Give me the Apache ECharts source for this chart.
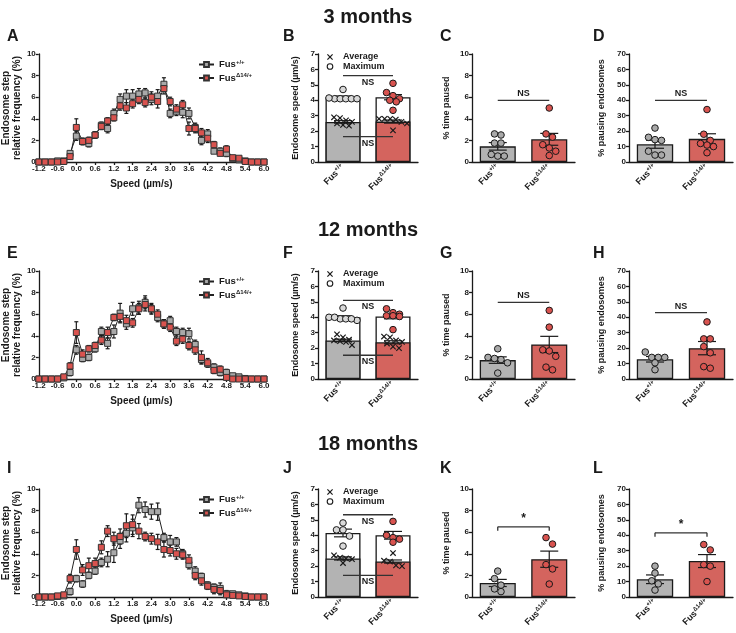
<!DOCTYPE html>
<html><head><meta charset="utf-8">
<script src="https://cdn.jsdelivr.net/npm/echarts@6/dist/echarts.min.js"></script>
<style>html,body{margin:0;padding:0;background:#fff}#c{width:736px;height:633px}</style>
</head><body><div id="c"></div><script>
// ---------------- DATA ----------------
const WT = 'Fus+/+', MUT = 'FusΔ14/+';
const groups = [WT, MUT];
const speeds = [-1.2,-1.0,-0.8,-0.6,-0.4,-0.2,0.0,0.2,0.4,0.6,0.8,1.0,1.2,1.4,1.6,1.8,2.0,2.2,2.4,2.6,2.8,3.0,3.2,3.4,3.6,3.8,4.0,4.2,4.4,4.6,4.8,5.0,5.2,5.4,5.6,5.8,6.0];

// 3 months – step frequency
const A_wt     = [0,0,0,0.1,0.1,0.8,2.4,1.9,1.7,2.5,3.4,3.1,4.5,5.8,6.1,6.1,6.3,6.4,5.8,6.1,7.2,4.5,4.7,4.6,4.5,3.2,2.0,2.6,1.0,1.0,0.8,0.3,0.2,0.1,0,0,0];
const A_wt_err = [0,0,0,0.1,0.1,0.2,0.4,0.3,0.3,0.3,0.3,0.4,0.4,0.5,0.6,0.6,0.5,0.4,0.5,0.6,0.6,0.4,0.4,0.5,0.5,0.4,0.4,0.4,0.2,0.3,0.3,0.2,0.1,0.1,0,0,0];
const A_mut    = [0,0,0,0,0.05,0.5,3.2,1.9,2.0,2.5,3.3,3.8,4.1,5.2,5.0,5.4,5.8,5.5,6.0,5.6,6.8,5.6,4.9,5.3,3.1,3.1,2.7,2.2,1.6,0.8,1.2,0.4,0.35,0.05,0,0,0];
const A_mut_err= [0,0,0,0,0.05,0.2,0.8,0.3,0.3,0.3,0.3,0.3,0.3,0.4,0.5,0.4,0.4,0.4,0.5,0.6,0.5,0.4,0.4,0.4,0.6,0.4,0.4,0.4,0.3,0.2,0.3,0.1,0.1,0.05,0,0,0];
// 12 months
const E_wt     = [0,0,0,0,0.1,0.6,2.7,1.9,2.0,2.8,4.4,3.3,4.4,6.1,5.1,6.5,6.6,7.1,6.5,5.7,5.1,5.4,4.4,4.3,4.2,3.2,1.8,1.4,1.1,0.6,0.6,0.3,0.2,0.05,0,0,0];
const E_wt_err = [0,0,0,0,0.05,0.3,0.4,0.3,0.3,0.3,0.4,0.5,0.6,0.9,0.5,0.6,0.6,0.6,0.4,0.4,0.4,0.4,0.4,0.4,0.5,0.4,0.4,0.3,0.3,0.3,0.3,0.1,0.1,0.05,0,0,0];
const E_mut    = [0,0,0,0,0.2,1.2,4.3,2.3,2.8,3.1,3.6,4.3,5.7,5.8,5.4,5.2,6.5,6.9,6.5,6.0,5.1,4.8,3.5,3.7,3.1,2.7,2.0,1.5,0.8,0.9,0.15,0,0,0,0,0,0];
const E_mut_err= [0,0,0,0,0.1,0.3,1.0,0.4,0.3,0.3,0.4,0.5,0.3,0.5,0.5,0.4,0.5,0.6,0.5,0.4,0.4,0.4,0.4,0.4,0.4,0.4,0.6,0.4,0.3,0.3,0.1,0,0,0,0,0,0];
// 18 months
const I_wt     = [0,0,0,0.05,0.1,0.5,1.7,1.2,2.0,2.4,3.2,3.5,4.1,5.2,5.9,6.4,8.5,8.1,7.9,7.9,5.5,5.1,5.1,4.0,3.0,2.4,1.9,1.1,0.9,0.8,0.3,0.3,0.2,0.1,0,0,0];
const I_wt_err = [0,0,0,0.05,0.1,0.3,0.3,0.3,0.3,0.3,0.4,0.7,0.9,0.7,0.8,0.8,0.7,0.7,0.7,0.8,0.4,0.6,0.4,0.4,0.4,0.4,0.3,0.3,0.3,0.5,0.3,0.2,0.1,0.1,0,0,0];
const I_mut    = [0,0,0,0.1,0.2,1.7,4.4,2.5,2.9,3.1,4.6,6.1,5.4,5.6,6.6,6.7,6.1,5.6,5.4,5.1,4.4,4.3,4.0,3.9,3.4,2.0,1.5,1.0,0.7,0.6,0.2,0.15,0.1,0.05,0,0,0];
const I_mut_err= [0,0,0,0.05,0.1,0.4,0.9,0.5,0.7,0.5,0.6,0.5,0.6,0.7,1.1,0.9,0.7,0.4,0.5,0.7,0.7,0.5,0.5,0.4,0.5,0.4,0.4,0.3,0.4,0.4,0.2,0.1,0.1,0.05,0,0,0];

// Endosome speed (µm/s): per-animal maximum / average, bar means and SEM
const B_wt_max = [4.7,4.1,4.1,4.1,4.1,4.1,4.15], B_wt_avg = [2.9,2.85,2.7,2.6,2.4,2.35,2.5];
const B_mut_max = [5.1,4.5,4.3,4.1,3.9,4.0,3.35], B_mut_avg = [2.8,2.8,2.75,2.8,2.6,2.5,2.05];
const B_bar_max = [4.2,4.2], B_bar_max_sem = [0.08,0.17], B_bar_avg = [2.6,2.62], B_bar_avg_sem = [0.08,0.1];
const F_wt_max = [4.6,4.0,3.9,3.9,3.8,3.9,4.0], F_wt_avg = [2.9,2.7,2.55,2.5,2.4,2.2,2.45];
const F_mut_max = [4.55,4.3,4.2,4.1,4.1,4.05,3.2], F_mut_avg = [2.75,2.7,2.5,2.4,2.3,2.0,2.1];
const F_bar_max = [4.0,4.05], F_bar_max_sem = [0.1,0.15], F_bar_avg = [2.5,2.38], F_bar_avg_sem = [0.08,0.1];
const J_wt_max = [4.8,4.35,4.35,3.95,3.3], J_wt_avg = [2.7,2.55,2.45,2.5,2.2];
const J_mut_max = [4.9,4.0,3.85,3.75,3.55], J_mut_avg = [2.85,2.35,2.3,2.05,2.0];
const J_bar_max = [4.15,4.0], J_bar_max_sem = [0.25,0.25], J_bar_avg = [2.5,2.3], J_bar_avg_sem = [0.1,0.1];

// % time paused
const C_wt = [2.5,2.6,1.75,1.75,0.7,0.55,0.55], C_mut = [5.0,2.6,2.3,1.6,1.3,1.0,0.6], C_bar = [1.45,2.1], C_sem = [0.35,0.55];
const G_wt = [2.8,2.0,1.9,1.8,1.5,0.55], G_mut = [6.35,4.8,2.7,2.6,2.1,1.1,0.85], G_bar = [1.75,3.2], G_sem = [0.3,0.75];
const K_wt = [2.4,1.7,1.1,0.75,0.5], K_mut = [5.5,4.9,3.0,2.6,1.2], K_bar = [1.3,3.5], K_sem = [0.33,0.75];
// % pausing endosomes
const D_wt = [22,16,14.5,14,7,4.5,4.5], D_mut = [34,18,14,12,10,11,6], D_bar = [11.5,15], D_sem = [2.6,3.3];
const H_wt = [17.5,14,14,14,10.5,6], H_mut = [37,26,26,21,17,8,7], H_bar = [12.8,20], H_sem = [1.8,4.3];
const L_wt = [20,15.5,10.5,8.5,4.5], L_mut = [34,30.5,21,20,10], L_bar = [11.5,23.3], L_sem = [2.8,4.2];

// significance annotations: [label, level]
const B_sig = [['NS',5.6],['NS',1.64]], F_sig = [['NS',5.1],['NS',1.54]], J_sig = [['NS',5.33],['NS',1.4]];
const C_sig = ['NS',5.7], G_sig = ['NS',7.1], K_sig = ['*',6.5];
const D_sig = ['NS',40], H_sig = ['NS',43], L_sig = ['*',41.6];

const rowTitles = ['3 months','12 months','18 months'];
const letters = [['A','B','C','D'],['E','F','G','H'],['I','J','K','L']];
const yTicks = {step:[0,10,2], speed:[0,7,1], pause:[0,10,2], pct:[0,70,10]};

// ---------------- STYLE / LAYOUT ----------------
const FONT = '"Liberation Sans", Arial, Helvetica, sans-serif';
const BLACK = '#1a1a1a';
const GREY = '#b3b3b3', RED = '#d4645e';
const GREY_PT = '#a9a9a9', RED_PT = '#d9534f';
const rowTop = [54, 271, 489], rowH = 108;
const cols = {line:[32,232], speed:[318,100], pause:[472,103], pct:[629,104]};

const grids=[], xAxes=[], yAxes=[], series=[], legends=[], titles=[], graphics=[];

const labelRich = {
  b:{fontSize:9, fontWeight:'bold', fontFamily:FONT, color:BLACK},
  s:{fontSize:6, fontWeight:'bold', fontFamily:FONT, color:BLACK, padding:[0,0,5,0]}
};
const legRich = {
  b:{fontSize:9.5, fontWeight:'bold', fontFamily:FONT, color:BLACK},
  s:{fontSize:6, fontWeight:'bold', fontFamily:FONT, color:BLACK, padding:[0,0,5,0]}
};
const fusFmt = n => n === WT ? '{b|Fus}{s|+/+}' : '{b|Fus}{s|Δ14/+}';

function yAxisDef(gi, key, name, gap) {
  const [mn, mx, iv] = yTicks[key];
  return {type:'value', gridIndex:gi, min:mn, max:mx, interval:iv,
    name, nameLocation:'middle', nameGap:gap,
    nameTextStyle:{color:BLACK, fontFamily:FONT, fontWeight:'bold', fontSize:9, lineHeight:11},
    axisLine:{show:true, onZero:false, lineStyle:{color:BLACK, width:1.3}},
    axisTick:{show:true, length:3, lineStyle:{color:BLACK, width:1.3}},
    axisLabel:{color:BLACK, fontFamily:FONT, fontWeight:'bold', fontSize:8, margin:3},
    splitLine:{show:false}};
}
function catAxisDef(gi) {
  return {type:'category', gridIndex:gi, data:groups,
    axisLine:{show:true, onZero:false, lineStyle:{color:BLACK, width:1.3}},
    axisTick:{show:false},
    axisLabel:{rotate:45, interval:0, margin:4, formatter:fusFmt, rich:labelRich}};
}
function errRender(half, color) {
  return (params, api) => {
    const x = api.value(0), y = api.value(1), e = api.value(2);
    if (!e) return null;
    const t = api.coord([x, y + e]), b = api.coord([x, y - e]);
    const st = {stroke:color, lineWidth:1.2};
    return {type:'group', children:[
      {type:'line', shape:{x1:t[0], y1:t[1], x2:b[0], y2:b[1]}, style:st},
      {type:'line', shape:{x1:t[0]-half, y1:t[1], x2:t[0]+half, y2:t[1]}, style:st},
      {type:'line', shape:{x1:b[0]-half, y1:b[1], x2:b[0]+half, y2:b[1]}, style:st}]};
  };
}
function ptRender(kind, fill) {
  return (params, api) => {
    const c = api.coord([api.value(0), api.value(1)]);
    const x = c[0] + api.value(2), y = c[1];
    if (kind === 'o') return {type:'circle', shape:{cx:x, cy:y, r:3.3}, style:{fill, stroke:BLACK, lineWidth:1}};
    const s = 2.7, st = {stroke:BLACK, lineWidth:1.2};
    return {type:'group', children:[
      {type:'line', shape:{x1:x-s, y1:y-s, x2:x+s, y2:y+s}, style:st},
      {type:'line', shape:{x1:x-s, y1:y+s, x2:x+s, y2:y-s}, style:st}]};
  };
}
function sigRender(text, pos, ticks) {
  return (params, api) => {
    const y = api.value(1);
    const a = api.coord([0, y]), b = api.coord([1, y]);
    const st = {stroke:'#333', lineWidth:1.3};
    const ch = [{type:'line', shape:{x1:a[0], y1:a[1], x2:b[0], y2:b[1]}, style:st}];
    if (ticks) {
      ch.push({type:'line', shape:{x1:a[0], y1:a[1], x2:a[0], y2:a[1]+4}, style:st});
      ch.push({type:'line', shape:{x1:b[0], y1:b[1], x2:b[0], y2:b[1]+4}, style:st});
    }
    ch.push({type:'text', x:(a[0]+b[0])/2, y: pos === 'above' ? a[1]-2 : a[1]+2,
      style:{text, fill:BLACK, font:`bold ${text === '*' ? 12 : 9}px ${FONT}`, textAlign:'center',
             textVerticalAlign: pos === 'above' ? 'bottom' : 'top'}});
    return {type:'group', children:ch};
  };
}
// deterministic dot-plot spreading: points with close values share a row
function swarm(vals, ppu, d, maxW) {
  const order = vals.map((v,i)=>i).sort((a,b)=>vals[b]-vals[a]);
  const rows = [];
  order.forEach(i => {
    const r = rows[rows.length-1];
    if (r && (vals[r[0]] - vals[i]) * ppu < d) r.push(i); else rows.push([i]);
  });
  const off = new Array(vals.length).fill(0);
  rows.forEach(r => {
    const n = r.length, s = n > 1 ? Math.min(d, maxW/(n-1)) : 0;
    r.forEach((i,j) => off[i] = (j - (n-1)/2) * s);
  });
  return off;
}
function pointSeries(gi, cat, vals, key, kind, fill) {
  const [mn, mx] = yTicks[key];
  const off = swarm(vals, rowH/(mx-mn), kind === 'o' ? 6.5 : 6, 28);
  series.push({type:'custom', xAxisIndex:gi, yAxisIndex:gi, clip:false, z:6,
    renderItem:ptRender(kind, fill), data: vals.map((v,i)=>[cat, v, off[i]])});
}
function sigSeries(gi, sig, pos, ticks) {
  series.push({type:'custom', xAxisIndex:gi, yAxisIndex:gi, clip:false, z:5,
    renderItem:sigRender(sig[0], pos, ticks), data:[[0, sig[1]]]});
}
function errSeries(gi, means, sems, half, z) {
  series.push({type:'custom', xAxisIndex:gi, yAxisIndex:gi, clip:false, z:z||4,
    renderItem:errRender(half, BLACK), data: means.map((m,i)=>[i, m, sems[i]])});
}

const linePanels = [
  {wt:A_wt, wtE:A_wt_err, mut:A_mut, mutE:A_mut_err},
  {wt:E_wt, wtE:E_wt_err, mut:E_mut, mutE:E_mut_err},
  {wt:I_wt, wtE:I_wt_err, mut:I_mut, mutE:I_mut_err}];
const speedPanels = [
  {wtMax:B_wt_max, wtAvg:B_wt_avg, mutMax:B_mut_max, mutAvg:B_mut_avg, bMax:B_bar_max, bMaxE:B_bar_max_sem, bAvg:B_bar_avg, bAvgE:B_bar_avg_sem, sig:B_sig},
  {wtMax:F_wt_max, wtAvg:F_wt_avg, mutMax:F_mut_max, mutAvg:F_mut_avg, bMax:F_bar_max, bMaxE:F_bar_max_sem, bAvg:F_bar_avg, bAvgE:F_bar_avg_sem, sig:F_sig},
  {wtMax:J_wt_max, wtAvg:J_wt_avg, mutMax:J_mut_max, mutAvg:J_mut_avg, bMax:J_bar_max, bMaxE:J_bar_max_sem, bAvg:J_bar_avg, bAvgE:J_bar_avg_sem, sig:J_sig}];
const pausePanels = [{wt:C_wt, mut:C_mut, bar:C_bar, sem:C_sem, sig:C_sig, t:false},
                     {wt:G_wt, mut:G_mut, bar:G_bar, sem:G_sem, sig:G_sig, t:false},
                     {wt:K_wt, mut:K_mut, bar:K_bar, sem:K_sem, sig:K_sig, t:true}];
const pctPanels = [{wt:D_wt, mut:D_mut, bar:D_bar, sem:D_sem, sig:D_sig, t:false},
                   {wt:H_wt, mut:H_mut, bar:H_bar, sem:H_sem, sig:H_sig, t:false},
                   {wt:L_wt, mut:L_mut, bar:L_bar, sem:L_sem, sig:L_sig, t:true}];

const titleTops = [2, 215, 429];
const letterTops = [24, 241, 456];
const letterLeft = [2, 278, 435, 588];

for (let r = 0; r < 3; r++) {
  const top = rowTop[r];
  titles.push({text:rowTitles[r], left:'center', top:titleTops[r],
    textStyle:{fontSize:20, fontWeight:'bold', fontFamily:FONT, color:BLACK}});
  letters[r].forEach((L, c) => titles.push({text:L, left:letterLeft[c], top:letterTops[r],
    textStyle:{fontSize:16, fontWeight:'bold', fontFamily:FONT, color:BLACK}}));

  // ---- line panel ----
  let gi = 4*r;
  grids.push({left:cols.line[0], top, width:cols.line[1], height:rowH});
  xAxes.push({type:'value', gridIndex:gi, min:-1.2, max:6.0, interval:0.6,
    name:'Speed (µm/s)', nameLocation:'middle', nameGap:17,
    nameTextStyle:{color:BLACK, fontFamily:FONT, fontWeight:'bold', fontSize:10, padding:[0,20,0,0]},
    axisLine:{show:true, onZero:false, lineStyle:{color:BLACK, width:1.3}},
    axisTick:{show:true, length:3, lineStyle:{color:BLACK, width:1.3}},
    axisLabel:{color:BLACK, fontFamily:FONT, fontWeight:'bold', fontSize:8, margin:3,
      formatter:v => Math.abs(v) < 1e-9 ? '0.0' : v.toFixed(1)},
    splitLine:{show:false}});
  const ya = yAxisDef(gi, 'step', 'Endosome step\nrelative frequency (%)', 13);
  ya.nameTextStyle.fontSize = 10;
  yAxes.push(ya);
  const lp = linePanels[r];
  [[lp.wt, lp.wtE], [lp.mut, lp.mutE]].forEach(([vals, errs], k) => {
    series.push({type:'custom', xAxisIndex:gi, yAxisIndex:gi, z:2, clip:false,
      renderItem:errRender(2, BLACK), data: speeds.map((s,i)=>[s, vals[i], errs[i]])});
  });
  [[WT, lp.wt, GREY_PT], [MUT, lp.mut, RED_PT]].forEach(([nm, vals, col]) => {
    series.push({type:'line', name:nm, xAxisIndex:gi, yAxisIndex:gi, z:3,
      symbol:'rect', symbolSize:6, showAllSymbol:true,
      itemStyle:{color:col, borderColor:'#333', borderWidth:1},
      lineStyle:{color:'#222', width:1},
      data: speeds.map((s,i)=>[s, vals[i]])});
  });
  legends.push({orient:'vertical', left:193, top:top, itemGap:3, itemWidth:15, itemHeight:6,
    data:[WT, MUT], formatter:fusFmt, textStyle:{rich:legRich}, selectedMode:false});

  // ---- speed panel ----
  gi = 4*r + 1;
  const sp = speedPanels[r];
  grids.push({left:cols.speed[0], top, width:cols.speed[1], height:rowH});
  xAxes.push(catAxisDef(gi));
  yAxes.push(yAxisDef(gi, 'speed', 'Endosome speed (µm/s)', 17));
  series.push({type:'bar', xAxisIndex:gi, yAxisIndex:gi, barWidth:'70%', barGap:'-100%', z:1,
    itemStyle:{color:'#fff', borderColor:BLACK, borderWidth:1.3},
    data: sp.bMax.map(v => ({value:v}))});
  series.push({type:'bar', xAxisIndex:gi, yAxisIndex:gi, barWidth:'70%', barGap:'-100%', z:2,
    itemStyle:{borderColor:BLACK, borderWidth:1.3},
    data: sp.bAvg.map((v,i) => ({value:v, itemStyle:{color: i ? RED : GREY}}))});
  errSeries(gi, sp.bMax, sp.bMaxE, 9);
  errSeries(gi, sp.bAvg, sp.bAvgE, 9);
  sigSeries(gi, sp.sig[0], 'below', false);
  sigSeries(gi, sp.sig[1], 'below', false);
  pointSeries(gi, 0, sp.wtMax, 'speed', 'o', '#d9d9d9');
  pointSeries(gi, 0, sp.wtAvg, 'speed', 'x');
  pointSeries(gi, 1, sp.mutMax, 'speed', 'o', RED_PT);
  pointSeries(gi, 1, sp.mutAvg, 'speed', 'x');
  const lx = 330, ly = top + 3;
  graphics.push({type:'group', children:[
    {type:'line', shape:{x1:lx-2.6, y1:ly-2.6, x2:lx+2.6, y2:ly+2.6}, style:{stroke:BLACK, lineWidth:1.2}},
    {type:'line', shape:{x1:lx-2.6, y1:ly+2.6, x2:lx+2.6, y2:ly-2.6}, style:{stroke:BLACK, lineWidth:1.2}},
    {type:'text', x:343, y:ly, style:{text:'Average', fill:BLACK, font:`bold 9px ${FONT}`, textVerticalAlign:'middle'}},
    {type:'circle', shape:{cx:lx, cy:ly+9.5, r:2.8}, style:{fill:'#fff', stroke:BLACK, lineWidth:1.1}},
    {type:'text', x:343, y:ly+9.5, style:{text:'Maximum', fill:BLACK, font:`bold 9px ${FONT}`, textVerticalAlign:'middle'}}]});

  // ---- pause / pct panels ----
  [[pausePanels[r], 'pause', '% time paused', cols.pause, 20],
   [pctPanels[r], 'pct', '% pausing endosomes', cols.pct, 22]].forEach(([p, key, nm, col, gap], k) => {
    const g = 4*r + 2 + k;
    grids.push({left:col[0], top, width:col[1], height:rowH});
    xAxes.push(catAxisDef(g));
    yAxes.push(yAxisDef(g, key, nm, gap));
    series.push({type:'bar', xAxisIndex:g, yAxisIndex:g, barWidth:'70%', z:1,
      itemStyle:{borderColor:BLACK, borderWidth:1.3},
      data: p.bar.map((v,i) => ({value:v, itemStyle:{color: i ? RED : GREY}}))});
    errSeries(g, p.bar, p.sem, 9);
    sigSeries(g, p.sig, 'above', p.t);
    pointSeries(g, 0, p.wt, key, 'o', GREY_PT);
    pointSeries(g, 1, p.mut, key, 'o', RED_PT);
  });
}

const chart = echarts.init(document.getElementById('c'), null, {renderer:'canvas'});
chart.setOption({animation:false, backgroundColor:'#fff', title:titles, grid:grids,
  xAxis:xAxes, yAxis:yAxes, legend:legends, series, graphic:graphics});
</script></body></html>
